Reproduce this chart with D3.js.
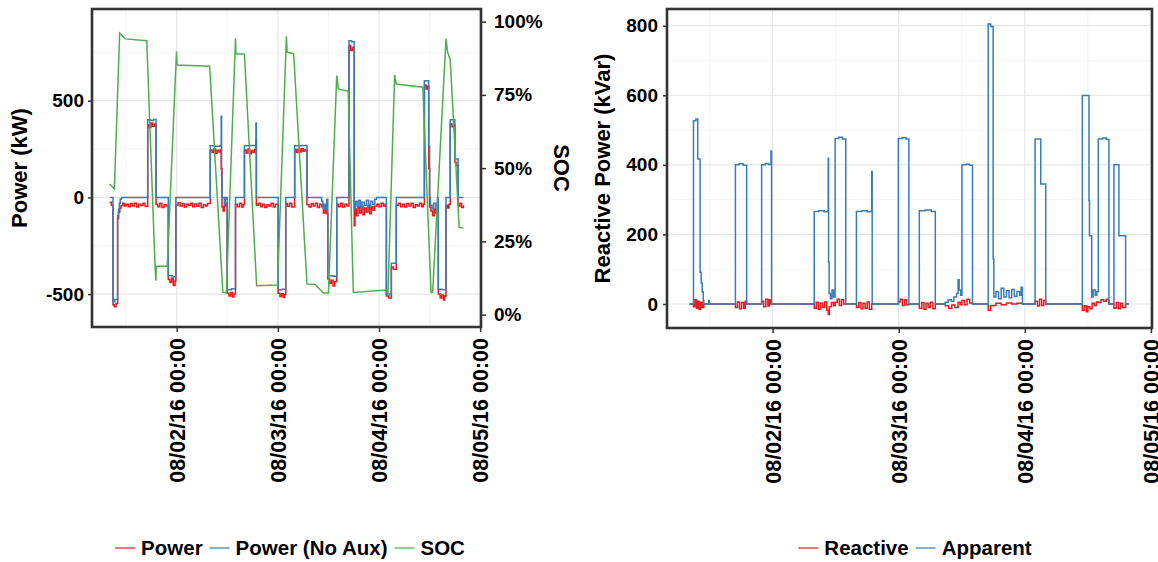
<!DOCTYPE html>
<html>
<head>
<meta charset="utf-8">
<script src="https://cdn.jsdelivr.net/npm/d3@7/dist/d3.min.js"></script>
<style>
body { margin: 0; background: #fff; }
text { font-family: "Liberation Sans", Arial, sans-serif; font-weight: bold; fill: #000; }
</style>
</head>
<body>
<svg id="chart" width="1158" height="562"></svg>
<script>
// hours counted from 08/01/16 00:00
var xTickLabels = ["08/02/16 00:00", "08/03/16 00:00", "08/04/16 00:00", "08/05/16 00:00"];
var powerTicks = [-500, 0, 500];
var powerMinor = [-250, 250, 750];
var socTicks = [0, 25, 50, 75, 100];
var reactTicks = [0, 200, 400, 600, 800];
var reactMinor = [100, 300, 500, 700];

var leftLegend = ["Power", "Power (No Aux)", "SOC"];
var rightLegend = ["Reactive", "Apparent"];

// Power (kW) incl. auxiliary load, [hour, value]
var power = [[8.1,-25],[8.5,-40],[8.88,-555],[9.2,-565],[9.6,-548],[9.98,-110],[10.2,-75],[10.5,-55],[10.8,-42],[11.2,-30],[11.6,-45],[12.0,-35],[12.5,-48],[13.0,-32],[13.5,-44],[14.0,-30],[14.5,-50],[15.0,-36],[15.5,-42],[16.0,-30],[16.5,-46],
	[17.12,375],[17.5,362],[17.9,385],[18.3,368],[18.7,380],[19.1,-35],[19.5,-48],[20.0,-30],[20.5,-52],[21.0,-38],[21.5,-44],
	[22.0,-425],[22.4,-440],[22.8,-418],[23.2,-455],[23.6,-432],[23.8,-40],[24.3,-28],[24.8,-45],[25.3,-33],[25.8,-50],[26.3,-36],[26.8,-42],[27.3,-30],[27.8,-48],[28.3,-34],[28.8,-46],[29.3,-30],[29.8,-52],[30.3,-38],[30.8,-44],[31.3,-32],
	[31.96,245],[32.4,232],[32.8,250],[33.2,228],[33.6,244],[34.0,235],[34.4,248],[34.55,150],[34.75,-50],[35.0,-70],[35.3,-45],[35.6,-30],
	[35.97,-495],[36.4,-510],[36.8,-492],[37.2,-515],[37.6,-500],[37.95,-35],[38.4,-48],[38.9,-30],[39.4,-50],[39.8,-38],
	[40.07,245],[40.5,230],[40.9,250],[41.3,225],[41.7,242],[42.1,232],[42.5,248],[42.8,300],[42.9,-40],[43.4,-30],[43.9,-48],[44.4,-35],[44.9,-52],[45.4,-38],[45.9,-44],[46.4,-30],[46.9,-50],[47.4,-36],
	[48.08,-495],[48.5,-512],[48.9,-498],[49.3,-518],[49.6,-502],[49.87,-32],[50.3,-46],[50.8,-30],[51.3,-50],
	[51.99,248],[52.4,232],[52.8,250],[53.2,235],[53.6,252],[54.0,238],[54.4,246],[54.9,-38],[55.4,-50],[55.9,-32],[56.4,-45],[56.9,-30],[57.4,-52],[57.9,-36],[58.4,-48],[58.8,-80],[59.2,-60],[59.5,-85],
	[59.85,-420],[60.3,-445],[60.7,-428],[61.1,-458],[61.5,-435],[61.97,-35],[62.4,-48],[62.9,-30],[63.4,-50],[63.9,-36],[64.4,-44],
	[64.87,785],[65.3,760],[65.7,775],[66.12,-147],[66.3,-60],[66.6,-95],[67.0,-50],[67.4,-80],[67.8,-45],[68.2,-90],[68.6,-55],[69.0,-75],[69.4,-40],[69.8,-85],[70.2,-50],[70.6,-65],[71.0,-45],[71.5,-35],[72.0,-48],[72.5,-30],[73.0,-44],[73.4,-36],
	[73.75,-510],[74.3,-520],[74.93,-360],[75.4,-372],[76.1,-40],[76.6,-30],[77.1,-48],[77.6,-35],[78.1,-50],[78.6,-32],[79.1,-45],[79.6,-30],[80.1,-52],[80.6,-38],[81.1,-44],[81.6,-30],[82.1,-48],[82.5,-36],
	[82.77,580],[83.2,560],[83.5,575],[83.79,150],[84.0,-50],[84.3,-70],[84.7,-95],[85.1,-60],[85.5,-80],[85.9,-45],
	[86.07,-500],[86.5,-520],[86.9,-505],[87.3,-530],[87.6,-510],[87.89,-40],[88.3,-55],[88.6,-35],
	[88.9,380],[89.3,365],[89.7,375],[90.0,180],[90.4,165],[90.78,-45],[91.2,-30],[91.6,-52],[92.03,-40]];

// Power (No Aux)
var powerNoAux = [[8.1,0],[8.88,-540],[9.3,-528],[9.98,-95],[10.2,-60],[10.4,-30],[10.6,-10],[10.9,0],
	[17.12,401],[17.8,398],[18.5,403],[19.1,0],
	[22.0,-405],[23.0,-410],[23.8,0],
	[31.96,267],[33.0,265],[34.3,268],[34.55,419],[34.65,112],[34.75,0],[35.3,-40],[35.5,-10],[35.6,0],
	[35.97,-478],[37.0,-472],[37.95,0],
	[40.07,267],[41.5,268],[42.7,266],[42.8,385],[42.9,0],
	[48.08,-478],[49.0,-475],[49.87,0],
	[51.99,267],[53.5,268],[54.9,0],
	[58.4,-20],[58.7,-55],[59.0,-35],[59.3,-60],[59.6,-10],
	[59.85,-405],[61.0,-408],[61.97,0],
	[64.87,810],[65.5,805],[66.12,-60],[66.4,-20],[66.8,-45],[67.2,-15],[67.6,-50],[68.0,-25],[68.5,-40],[69.0,-15],[69.5,-45],[70.0,-20],[70.5,-35],[71.0,-10],[71.4,0],
	[73.75,-500],[74.93,-340],[76.1,0],
	[82.77,603],[83.79,265],[84.0,0],[84.2,-40],[84.6,-60],[85.0,-30],[85.5,-55],[85.9,0],
	[86.07,-475],[87.0,-478],[87.89,0],
	[88.9,401],[90.0,198],[90.78,0],[92.03,0]];

// state of charge, percent
var soc = [[8.1,44.6],[9.21,42.9],[10.46,96.1],[11.8,94.1],[16.89,93.5],[18.86,16.7],[19.05,11.6],[19.17,16.5],[21.76,16.5],
	[23.95,89.8],[24.07,85.2],[31.82,84.8],[34.95,7.6],[35.78,7.5],[37.95,94.3],[38.06,89],[40.07,88.9],[42.96,9.9],[47.91,10.1],
	[50.03,95],[50.2,89.6],[51.75,89],[54.91,10.5],[56.86,10.3],[58.82,7.4],[60.0,7.4],[61.97,81.6],[62.35,77],[64.71,76.2],
	[65.89,7.6],[73.75,8.4],[74.13,7.6],[75.71,81.8],[76.11,78.7],[82.38,77.6],[84.35,7.6],[84.73,7.6],[87.89,94.1],[88.26,89.6],
	[88.9,87],[91.02,29.8],[92.03,29.6]];

// Reactive (kVar)
var reactive = [[8.18,0],[8.94,-8],[9.2,12],[9.5,-12],[9.75,8],[10.0,-15],[10.3,5],[10.6,-10],[10.9,0],
	[16.92,-10],[17.3,6],[17.7,-14],[18.1,4],[18.5,-12],[18.8,8],[19.06,0],
	[21.91,8],[22.3,-8],[22.7,14],[23.1,-6],[23.4,12],[23.68,0],
	[31.92,-12],[32.3,5],[32.7,-15],[33.1,3],[33.5,-10],[33.9,6],[34.3,-18],[34.6,-30],[34.8,-8],[35.2,4],[35.6,-5],
	[35.9,5],[36.3,14],[36.7,-4],[37.1,12],[37.5,0],[37.92,0],
	[39.95,-10],[40.4,4],[40.8,-14],[41.2,2],[41.6,-12],[42.0,6],[42.4,-15],[42.86,0],
	[47.93,6],[48.3,14],[48.7,-4],[49.1,12],[49.5,-2],[49.93,0],
	[51.92,-12],[52.4,4],[52.8,-15],[53.2,2],[53.6,-10],[54.0,5],[54.5,-14],[54.96,0],
	[56.86,-5],[57.5,-12],[58.1,-3],[58.7,-10],[59.3,5],[59.7,-2],[60.03,10],[60.5,-2],[61.0,14],[61.5,3],[62.04,0],
	[65.03,-18],[65.5,-5],[65.97,-4],[66.5,2],[67.5,-2],[68.5,3],[69.5,0],[70.5,2],[71.54,0],
	[73.95,8],[74.4,-6],[74.8,14],[75.2,-4],[75.6,10],[75.98,0],
	[82.94,-18],[83.3,-5],[83.7,-22],[84.0,-8],[84.4,-14],[84.8,2],[85.2,-4],[85.6,6],[86.0,4],[86.5,12],[87.0,8],[87.5,14],[88.0,0],
	[88.96,-12],[89.4,4],[89.8,-14],[90.2,2],[90.6,-10],[91.18,0],[91.8,0]];

// Apparent (kVA)
var apparent = [[8.18,0],[8.94,527],[9.4,532],[9.75,417],[10.2,91],[10.4,60],[10.6,35],[10.8,10],[10.9,0],[11.84,10],[11.95,0],
	[16.92,400],[17.6,403],[18.4,399],[19.06,0],
	[21.91,400],[22.6,404],[23.2,401],[23.68,440],[23.8,0],
	[31.92,266],[32.8,268],[33.8,265],[34.58,419],[34.65,120],[34.75,30],[35.0,15],[35.3,40],[35.6,20],
	[35.9,476],[36.6,479],[37.3,474],[37.92,0],
	[39.95,266],[41.0,268],[42.0,265],[42.86,381],[42.95,0],
	[47.93,476],[48.7,478],[49.4,474],[49.93,0],
	[51.92,268],[53.0,270],[54.2,266],[54.96,0],
	[56.86,5],[57.4,12],[58.0,8],[58.5,20],[59.0,30],[59.3,70],[59.5,40],[59.8,25],
	[60.03,400],[60.8,402],[61.5,399],[62.04,0],
	[65.03,805],[65.5,798],[65.97,129],[66.1,20],[66.5,35],[67.0,15],[67.5,45],[68.0,20],[68.5,38],[69.0,18],[69.5,42],[70.0,22],[70.5,36],[71.0,25],[71.3,48],[71.54,0],
	[73.95,474],[75.03,345],[75.98,0],
	[82.94,599],[84.21,297],[84.3,196],[84.72,20],[85.0,40],[85.4,25],[85.7,35],
	[85.98,474],[86.8,477],[87.5,473],[88.0,0],
	[88.96,400],[89.9,196],[91.18,0],[91.8,0]];

var RED = "#E41A1C", BLUE = "#377EB8", GREEN = "#4DAF4A";
var START = new Date(2016, 7, 1, 0, 0);
var parseTick = d3.timeParse("%m/%d/%y %H:%M");
var fmtTick = d3.timeFormat("%m/%d/%y %H:%M");

function toDate(h) { return new Date(START.getTime() + h * 3600000); }

var svg = d3.select("#chart");

/**
 * draws the panel gridlines and bottom axis, returns the x scale
 */
function makePanel(id, box, y, major, minor)
{
	var x = d3.scaleTime()
		.domain([toDate(3.9), toDate(96.2)])
		.range([box.left, box.right]);

	var g = svg.append("g");
	var majorX = xTickLabels.map(parseTick);
	var minorX = x.ticks(d3.timeHour.every(12)).filter(function(d){ return d.getHours() == 12; });

	g.selectAll(".minx").data(minorX).enter().append("line")
		.attr("x1", function(d){ return x(d); }).attr("x2", function(d){ return x(d); })
		.attr("y1", box.top).attr("y2", box.bottom)
		.attr("stroke", "#f2f2f2").attr("stroke-width", 0.7);
	g.selectAll(".miny").data(minor).enter().append("line")
		.attr("y1", function(d){ return y(d); }).attr("y2", function(d){ return y(d); })
		.attr("x1", box.left).attr("x2", box.right)
		.attr("stroke", "#f2f2f2").attr("stroke-width", 0.7);
	g.selectAll(".majx").data(majorX).enter().append("line")
		.attr("x1", function(d){ return x(d); }).attr("x2", function(d){ return x(d); })
		.attr("y1", box.top).attr("y2", box.bottom)
		.attr("stroke", "#e6e6e6").attr("stroke-width", 1.2);
	g.selectAll(".majy").data(major).enter().append("line")
		.attr("y1", function(d){ return y(d); }).attr("y2", function(d){ return y(d); })
		.attr("x1", box.left).attr("x2", box.right)
		.attr("stroke", "#e6e6e6").attr("stroke-width", 1.2);

	svg.append("clipPath").attr("id", id)
		.append("rect")
		.attr("x", box.left).attr("y", box.top)
		.attr("width", box.right - box.left).attr("height", box.bottom - box.top);

	var xAxis = svg.append("g")
		.attr("transform", "translate(0," + box.bottom + ")")
		.call(d3.axisBottom(x).tickValues(majorX).tickSize(5).tickPadding(4).tickFormat(fmtTick));
	xAxis.select(".domain").remove();
	xAxis.selectAll("line").attr("stroke", "#333").attr("stroke-width", 1.5);
	xAxis.selectAll("text")
		.attr("transform", "rotate(-90)")
		.attr("text-anchor", "end")
		.attr("x", -11).attr("y", 0).attr("dy", "0.36em")
		.style("font-size", "21.5px").attr("fill", "#000");

	return x;
}

function yAxis(axis, pos, size)
{
	var a = svg.append("g").attr("transform", "translate(" + pos + ",0)").call(axis);
	a.select(".domain").remove();
	a.selectAll("line").attr("stroke", "#333").attr("stroke-width", 1.5);
	a.selectAll("text").style("font-size", size).attr("fill", "#000");
	return a;
}

function frame(box)
{
	svg.append("rect")
		.attr("x", box.left).attr("y", box.top)
		.attr("width", box.right - box.left).attr("height", box.bottom - box.top)
		.attr("fill", "none").attr("stroke", "#333").attr("stroke-width", 2.6);
}

function drawLine(x, y, data, color, id, curve)
{
	var line = d3.line()
		.x(function(d){ return x(toDate(d[0])); })
		.y(function(d){ return y(d[1]); })
		.curve(curve);
	svg.append("path")
		.datum(data)
		.attr("clip-path", "url(#" + id + ")")
		.attr("fill", "none")
		.attr("stroke", color)
		.attr("stroke-width", 1.5)
		.attr("d", line);
}

function legend(names, colors, cx, cy)
{
	var g = svg.append("g");
	var pos = 0;
	for (var i = 0; i < names.length; i++)
	{
		g.append("line")
			.attr("x1", pos).attr("x2", pos + 20)
			.attr("y1", 0).attr("y2", 0)
			.attr("stroke", colors[i]).attr("stroke-width", 1.6).attr("opacity", 0.75);
		var t = g.append("text")
			.attr("x", pos + 26).attr("y", 0).attr("dy", "0.36em")
			.style("font-size", "20.5px")
			.text(names[i]);
		pos += 26 + t.node().getComputedTextLength() + 7;
	}
	pos -= 7;
	g.attr("transform", "translate(" + (cx - pos / 2) + "," + cy + ")");
}

function plain(d) { return String(d); }

// ---- left panel ----
var boxL = {left: 92, right: 481, top: 9, bottom: 327};
var yL = d3.scaleLinear().domain([-670, 974]).range([boxL.bottom, boxL.top]);
var ySoc = d3.scaleLinear().domain([-4.2, 104.3]).range([boxL.bottom, boxL.top]);
var xL = makePanel("clipL", boxL, yL, powerTicks, powerMinor);

drawLine(xL, yL, power, RED, "clipL", d3.curveStepAfter);
drawLine(xL, yL, powerNoAux, BLUE, "clipL", d3.curveStepAfter);
drawLine(xL, ySoc, soc, GREEN, "clipL", d3.curveLinear);
frame(boxL);

yAxis(d3.axisLeft(yL).tickValues(powerTicks).tickSize(4).tickPadding(4).tickFormat(plain), boxL.left, "19px");
yAxis(d3.axisRight(ySoc).tickValues(socTicks).tickSize(5).tickPadding(8)
	.tickFormat(function(d){ return d + "%"; }), boxL.right, "19px");

svg.append("text")
	.attr("transform", "translate(27," + ((boxL.top + boxL.bottom) / 2) + ") rotate(-90)")
	.attr("text-anchor", "middle")
	.style("font-size", "22px")
	.text("Power (kW)");
svg.append("text")
	.attr("transform", "translate(554," + ((boxL.top + boxL.bottom) / 2) + ") rotate(90)")
	.attr("text-anchor", "middle")
	.style("font-size", "22px")
	.text("SOC");

legend(leftLegend, [RED, BLUE, GREEN], 290, 548);

// ---- right panel ----
var boxR = {left: 667, right: 1152, top: 9, bottom: 328};
var yR = d3.scaleLinear().domain([-69, 848]).range([boxR.bottom, boxR.top]);
var xR = makePanel("clipR", boxR, yR, reactTicks, reactMinor);

drawLine(xR, yR, reactive, RED, "clipR", d3.curveStepAfter);
drawLine(xR, yR, apparent, BLUE, "clipR", d3.curveStepAfter);
frame(boxR);

yAxis(d3.axisLeft(yR).tickValues(reactTicks).tickSize(4).tickPadding(5).tickFormat(plain), boxR.left, "19px");

svg.append("text")
	.attr("transform", "translate(610," + ((boxR.top + boxR.bottom) / 2) + ") rotate(-90)")
	.attr("text-anchor", "middle")
	.style("font-size", "22px")
	.text("Reactive Power (kVar)");

legend(rightLegend, [RED, BLUE], 915, 548);
</script>
</body>
</html>
